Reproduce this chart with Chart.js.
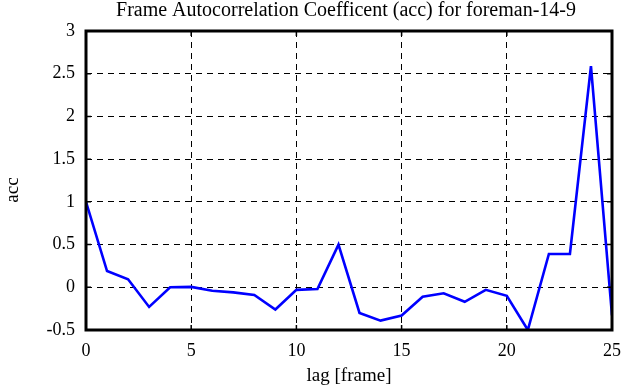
<!DOCTYPE html>
<html><head><meta charset="utf-8">
<script src="https://cdn.jsdelivr.net/npm/chart.js@4/dist/chart.umd.min.js"></script>
<style>html,body{margin:0;padding:0;background:#fff}#wrap{width:635px;height:387px}</style>
</head><body><div id="wrap"><canvas id="c" width="635" height="387"></canvas></div>
<script>
const lags = [0,1,2,3,4,5,6,7,8,9,10,11,12,13,14,15,16,17,18,19,20,21,22,23,24,25];
const acc = [1.0,0.19,0.094,-0.23,0.0,0.005,-0.04,-0.06,-0.09,-0.26,-0.03,-0.02,0.5,-0.30,-0.39,-0.33,-0.11,-0.07,-0.17,-0.03,-0.10,-0.50,0.39,0.39,2.59,-0.33];
const xTicks = [0,5,10,15,20,25];
const yTicks = [-0.5,0,0.5,1,1.5,2,2.5,3];
const titleText = 'Frame Autocorrelation Coefficent (acc) for foreman-14-9';
const xLabel = 'lag [frame]';
const yLabel = 'acc';

const FONT = '"Liberation Serif", "DejaVu Serif", serif';

const frame = {
  id: 'frame',
  afterDraw(chart) {
    const {ctx, chartArea: a, scales} = chart;
    ctx.save();
    ctx.strokeStyle = '#000';
    ctx.lineWidth = 1.5;
    ctx.setLineDash([]);
    const tl = 5;
    ctx.beginPath();
    xTicks.forEach(v => {
      const px = scales.x.getPixelForValue(v);
      ctx.moveTo(px, a.bottom); ctx.lineTo(px, a.bottom - tl);
      ctx.moveTo(px, a.top); ctx.lineTo(px, a.top + tl);
    });
    yTicks.forEach(v => {
      const py = scales.y.getPixelForValue(v);
      ctx.moveTo(a.left, py); ctx.lineTo(a.left + tl, py);
      ctx.moveTo(a.right, py); ctx.lineTo(a.right - tl, py);
    });
    ctx.stroke();
    ctx.lineWidth = 3;
    ctx.strokeRect(a.left, a.top, a.right - a.left, a.bottom - a.top);
    // title
    ctx.fillStyle = '#000';
    ctx.font = '20px ' + FONT;
    ctx.textAlign = 'center';
    ctx.textBaseline = 'alphabetic';
    ctx.fillText(titleText, (a.left + a.right) / 2 - 3, 16);
    // y label
    ctx.font = '19px ' + FONT;
    ctx.translate(18, 190);
    ctx.rotate(-Math.PI / 2);
    ctx.fillText(yLabel, 0, 0);
    ctx.restore();
  }
};

new Chart(document.getElementById('c'), {
  type: 'line',
  data: {
    datasets: [{
      data: lags.map((l, i) => ({x: l, y: acc[i]})),
      borderColor: '#0000ff',
      borderWidth: 2.6,
      pointRadius: 0,
      tension: 0,
      fill: false
    }]
  },
  options: {
    responsive: false,
    animation: false,
    devicePixelRatio: 1,
    layout: {padding: {left: 0, right: 23, top: 31, bottom: 0}},
    plugins: {
      legend: {display: false},
      tooltip: {enabled: false},
      title: {display: false}
    },
    scales: {
      x: {
        type: 'linear', min: 0, max: 25,
        afterBuildTicks(s) { s.ticks = xTicks.map(v => ({value: v})); },
        afterFit(s) { s.height = 57; },
        ticks: {color: '#000', font: {family: FONT, size: 18}, padding: 10, maxRotation: 0,
                callback: v => String(v)},
        grid: {color: '#000', lineWidth: 1, drawTicks: false},
        border: {display: false, dash: [6, 5]},
        title: {display: true, text: xLabel, color: '#000', font: {family: FONT, size: 19}, padding: {top: 0, bottom: 0}}
      },
      y: {
        type: 'linear', min: -0.5, max: 3,
        afterBuildTicks(s) { s.ticks = yTicks.map(v => ({value: v})); },
        afterFit(s) { s.width = 86; },
        ticks: {color: '#000', font: {family: FONT, size: 18}, padding: 11,
                callback: v => String(v)},
        grid: {color: '#000', lineWidth: 1, drawTicks: false},
        border: {display: false, dash: [6, 5]}
      }
    }
  },
  plugins: [frame]
});
</script></body></html>
